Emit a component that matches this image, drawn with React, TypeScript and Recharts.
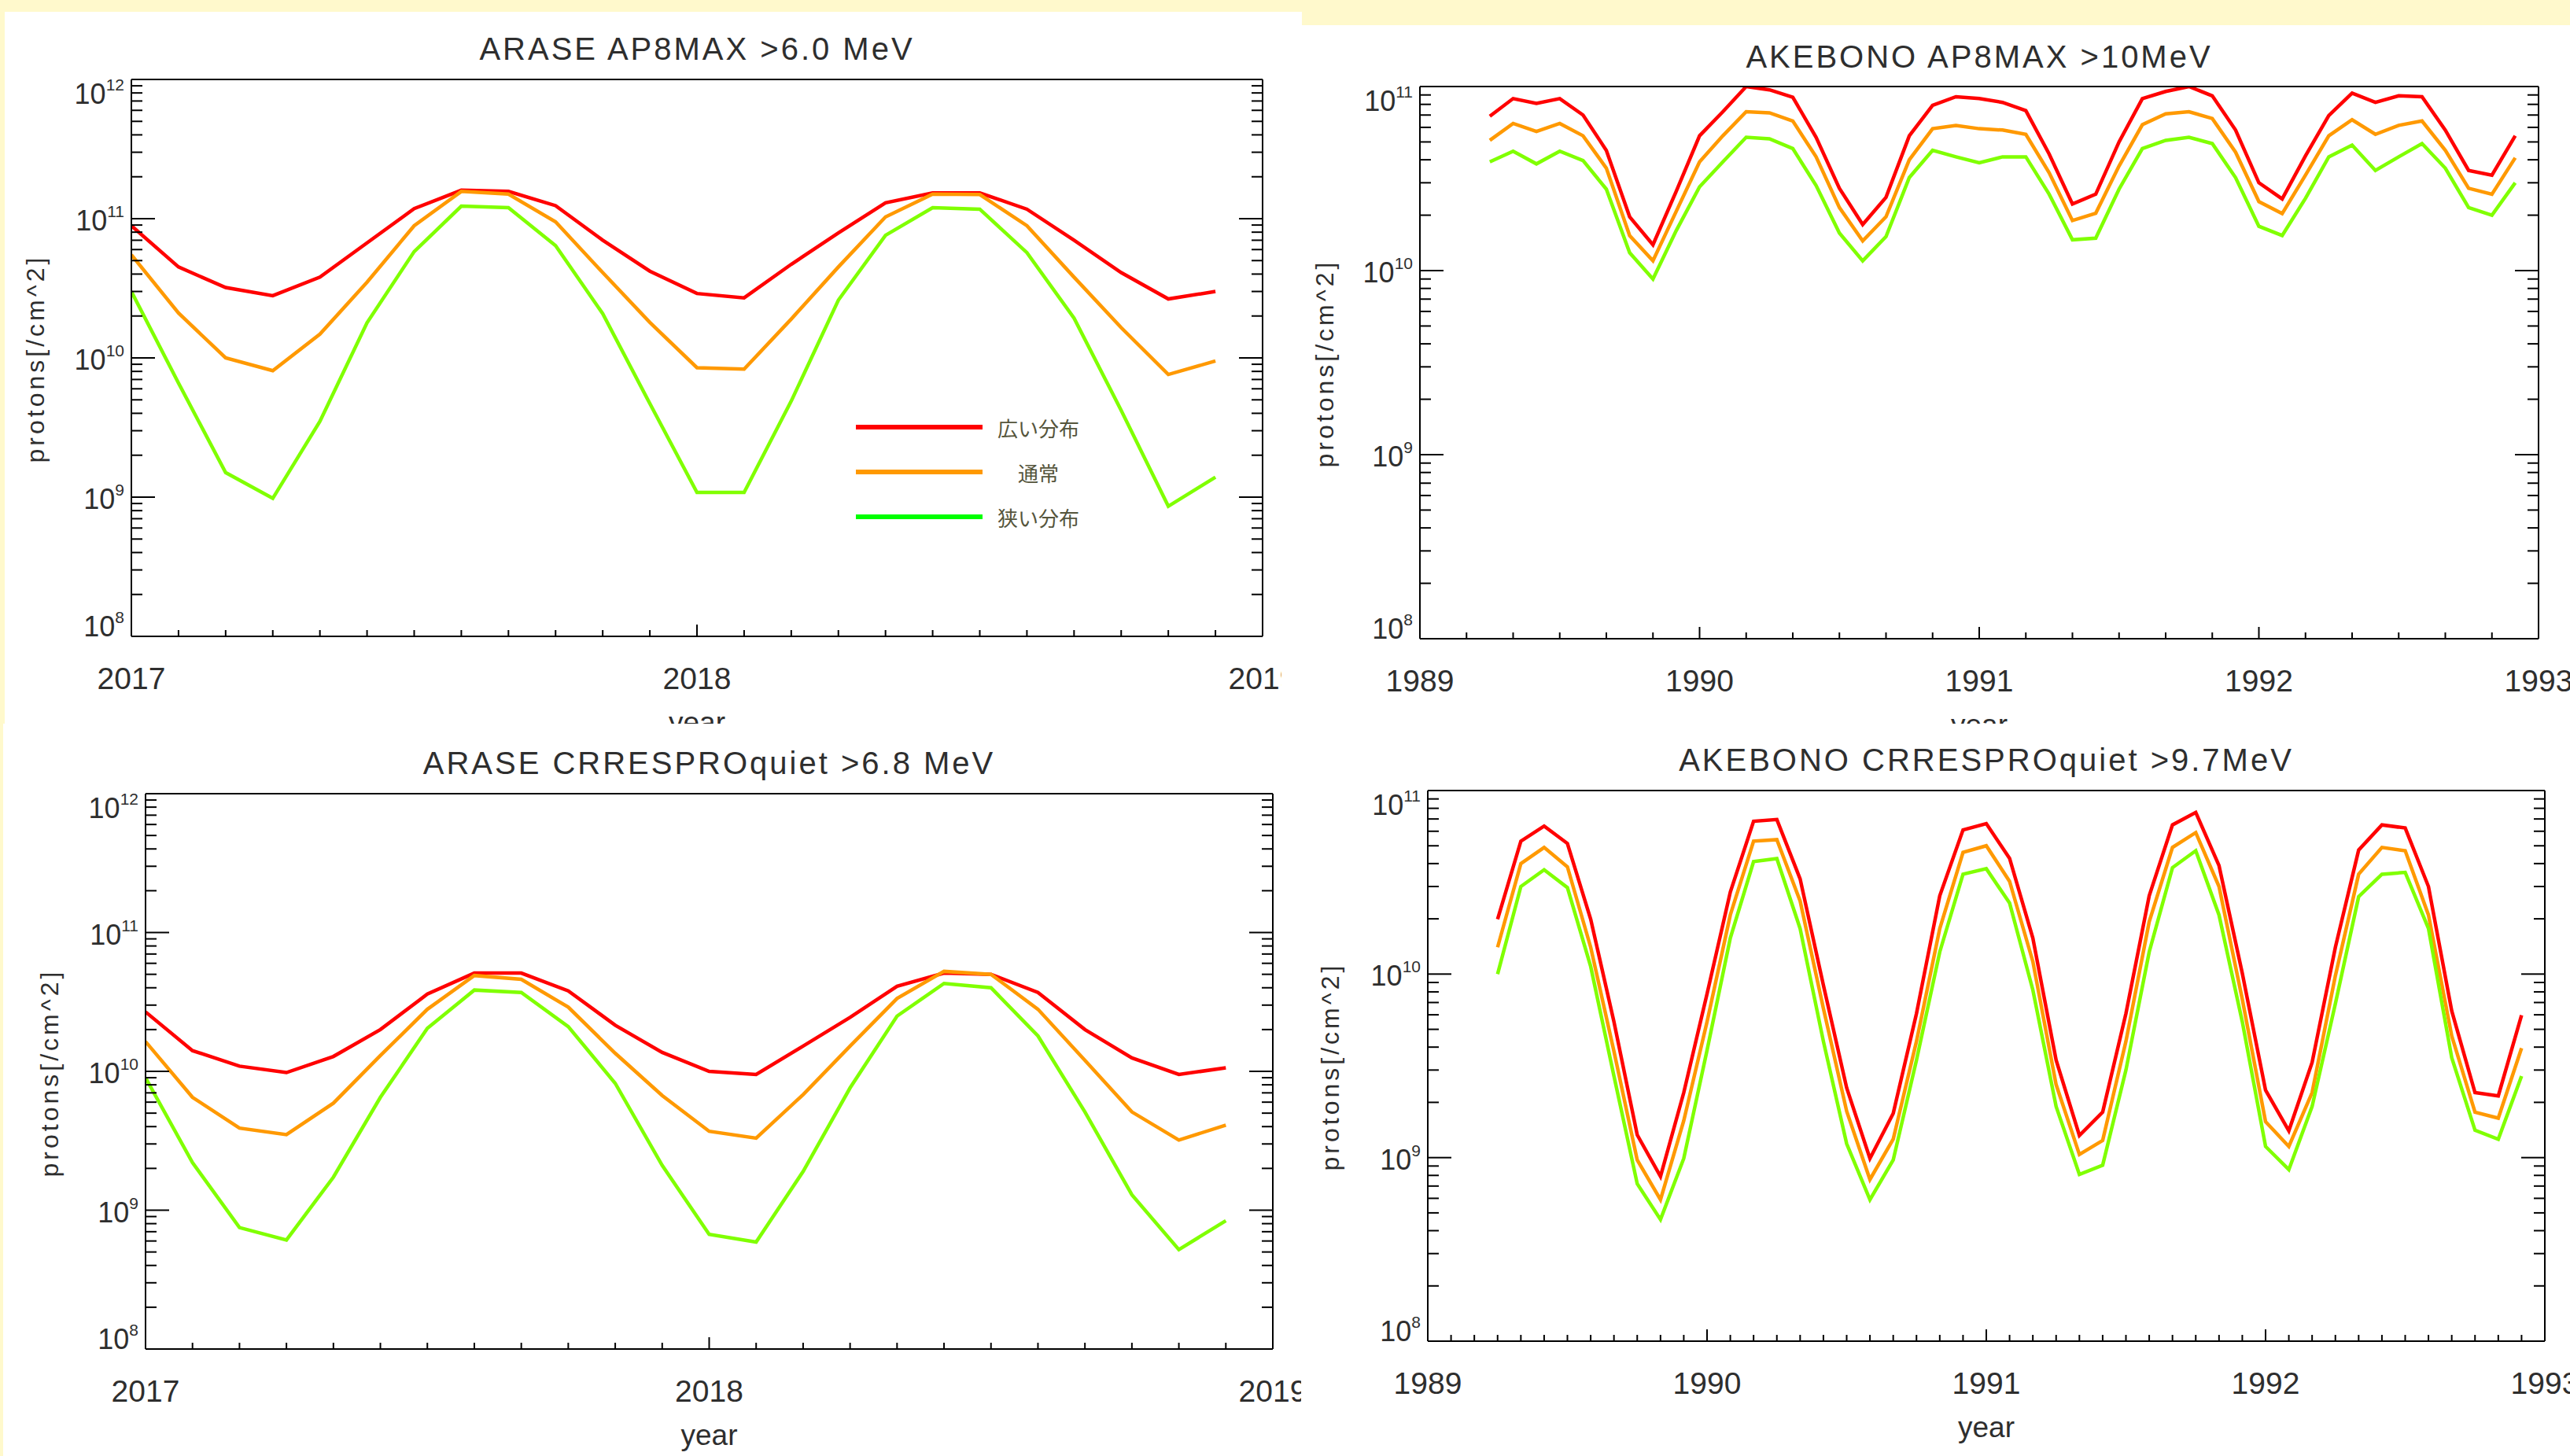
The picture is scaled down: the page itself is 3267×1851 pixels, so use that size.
import { LineChart, Line, XAxis, YAxis, Legend } from 'recharts'

const BG = '#fff9cc'
const INK = '#2e2e2e'
const FONT = '"Liberation Sans", "DejaVu Sans", sans-serif'
const JP_FONT = '"Noto Sans CJK JP", sans-serif'

// series
const seriesKeys = ['wide', 'normal', 'narrow']
const seriesNames = ['広い分布', '通常', '狭い分布']
const lineColors = ['#ff0000', '#ff9900', '#80ff00']
const legendColors = ['#ff0000', '#ff9900', '#00ff00']

// months (categories)
const araseMonths = [
  '2017-01', '2017-02', '2017-03', '2017-04', '2017-05', '2017-06',
  '2017-07', '2017-08', '2017-09', '2017-10', '2017-11', '2017-12',
  '2018-01', '2018-02', '2018-03', '2018-04', '2018-05', '2018-06',
  '2018-07', '2018-08', '2018-09', '2018-10', '2018-11', '2018-12',
]
const akebonoMonths = [
  '1989-04', '1989-05', '1989-06', '1989-07', '1989-08', '1989-09',
  '1989-10', '1989-11', '1989-12',
  '1990-01', '1990-02', '1990-03', '1990-04', '1990-05', '1990-06',
  '1990-07', '1990-08', '1990-09', '1990-10', '1990-11', '1990-12',
  '1991-01', '1991-02', '1991-03', '1991-04', '1991-05', '1991-06',
  '1991-07', '1991-08', '1991-09', '1991-10', '1991-11', '1991-12',
  '1992-01', '1992-02', '1992-03', '1992-04', '1992-05', '1992-06',
  '1992-07', '1992-08', '1992-09', '1992-10', '1992-11', '1992-12',
]

// tick labels
const araseYears = [2017, 2018, 2019]
const akebonoYears = [1989, 1990, 1991, 1992, 1993]
const araseDecades = [8, 9, 10, 11, 12]
const akebonoDecades = [8, 9, 10, 11]

// ARASE AP8MAX >6.0 MeV
const araseAp8Wide = [8.9e10, 4.5e10, 3.2e10, 2.8e10, 3.8e10, 6.7e10, 1.18e11, 1.6e11, 1.57e11, 1.24e11, 7.0e10, 4.2e10, 2.9e10, 2.7e10, 4.7e10, 7.9e10, 1.3e11, 1.53e11, 1.53e11, 1.17e11, 7.0e10, 4.1e10, 2.65e10, 3.0e10]
const araseAp8Normal = [5.5e10, 2.1e10, 1.0e10, 8.1e9, 1.48e10, 3.5e10, 8.9e10, 1.57e11, 1.5e11, 9.5e10, 4.1e10, 1.8e10, 8.5e9, 8.3e9, 1.9e10, 4.5e10, 1.03e11, 1.5e11, 1.49e11, 8.9e10, 3.8e10, 1.65e10, 7.6e9, 9.5e9]
const araseAp8Narrow = [3.0e10, 6.6e9, 1.5e9, 9.8e8, 3.5e9, 1.79e10, 5.8e10, 1.23e11, 1.2e11, 6.4e10, 2.08e10, 4.7e9, 1.08e9, 1.08e9, 4.9e9, 2.6e10, 7.6e10, 1.2e11, 1.17e11, 5.7e10, 1.93e10, 4.2e9, 8.6e8, 1.39e9]

// ARASE CRRESPROquiet >6.8 MeV
const araseCrresWide = [2.68e10, 1.41e10, 1.09e10, 9.8e9, 1.28e10, 2.0e10, 3.6e10, 5.1e10, 5.1e10, 3.8e10, 2.15e10, 1.37e10, 1.0e10, 9.5e9, 1.52e10, 2.45e10, 4.1e10, 5.1e10, 5.0e10, 3.7e10, 2.0e10, 1.25e10, 9.5e9, 1.06e10]
const araseCrresNormal = [1.64e10, 6.5e9, 3.9e9, 3.5e9, 5.9e9, 1.3e10, 2.8e10, 4.9e10, 4.6e10, 2.9e10, 1.35e10, 6.7e9, 3.7e9, 3.3e9, 6.8e9, 1.52e10, 3.35e10, 5.25e10, 5.0e10, 2.8e10, 1.2e10, 5.1e9, 3.2e9, 4.1e9]
const araseCrresNarrow = [9.0e9, 2.2e9, 7.5e8, 6.1e8, 1.73e9, 6.5e9, 2.04e10, 3.85e10, 3.7e10, 2.1e10, 8.2e9, 2.1e9, 6.7e8, 5.9e8, 1.9e9, 7.6e9, 2.5e10, 4.3e10, 4.0e10, 1.8e10, 5.1e9, 1.29e9, 5.2e8, 8.4e8]

// AKEBONO AP8MAX >10MeV
const akebonoAp8Wide = [6.9e10, 8.6e10, 8.1e10, 8.6e10, 7.0e10, 4.5e10, 1.96e10, 1.38e10, 2.7e10, 5.4e10, 7.3e10, 1.0e11, 9.6e10, 8.75e10, 5.3e10, 2.8e10, 1.78e10, 2.5e10, 5.4e10, 7.9e10, 8.8e10, 8.6e10, 8.2e10, 7.4e10, 4.3e10, 2.3e10, 2.6e10, 5.0e10, 8.6e10, 9.4e10, 1.0e11, 8.9e10, 5.8e10, 3.0e10, 2.45e10, 4.2e10, 6.95e10, 9.2e10, 8.2e10, 8.9e10, 8.8e10, 5.8e10, 3.5e10, 3.3e10, 5.4e10]
const akebonoAp8Normal = [5.1e10, 6.3e10, 5.7e10, 6.3e10, 5.4e10, 3.6e10, 1.55e10, 1.13e10, 2.1e10, 3.9e10, 5.4e10, 7.3e10, 7.2e10, 6.5e10, 4.15e10, 2.2e10, 1.45e10, 1.96e10, 4.0e10, 5.9e10, 6.15e10, 5.9e10, 5.8e10, 5.5e10, 3.4e10, 1.87e10, 2.05e10, 3.7e10, 6.2e10, 7.1e10, 7.3e10, 6.7e10, 4.4e10, 2.37e10, 2.04e10, 3.3e10, 5.4e10, 6.6e10, 5.5e10, 6.15e10, 6.5e10, 4.5e10, 2.8e10, 2.6e10, 4.1e10]
const akebonoAp8Narrow = [3.9e10, 4.45e10, 3.8e10, 4.45e10, 3.96e10, 2.77e10, 1.25e10, 9.0e9, 1.65e10, 2.85e10, 3.9e10, 5.3e10, 5.2e10, 4.6e10, 2.9e10, 1.6e10, 1.13e10, 1.53e10, 3.2e10, 4.5e10, 4.15e10, 3.85e10, 4.15e10, 4.15e10, 2.6e10, 1.47e10, 1.5e10, 2.77e10, 4.6e10, 5.1e10, 5.3e10, 4.9e10, 3.2e10, 1.74e10, 1.55e10, 2.47e10, 4.15e10, 4.8e10, 3.5e10, 4.15e10, 4.9e10, 3.6e10, 2.2e10, 2.0e10, 3.0e10]

// AKEBONO CRRESPROquiet >9.7MeV
const akebonoCrresWide = [1.99e10, 5.3e10, 6.4e10, 5.15e10, 1.99e10, 5.5e9, 1.33e9, 7.9e8, 2.26e9, 7.8e9, 2.8e10, 6.8e10, 6.95e10, 3.3e10, 8.7e9, 2.4e9, 9.9e8, 1.74e9, 6.1e9, 2.67e10, 6.1e10, 6.6e10, 4.27e10, 1.57e10, 3.4e9, 1.32e9, 1.77e9, 6.1e9, 2.67e10, 6.5e10, 7.6e10, 3.9e10, 1.01e10, 2.33e9, 1.4e9, 3.3e9, 1.4e10, 4.74e10, 6.5e10, 6.25e10, 3.0e10, 6.3e9, 2.26e9, 2.17e9, 5.97e9]
const akebonoCrresNormal = [1.4e10, 4.0e10, 4.9e10, 3.84e10, 1.4e10, 3.8e9, 9.7e8, 5.9e8, 1.59e9, 5.5e9, 2.1e10, 5.3e10, 5.4e10, 2.5e10, 6.5e9, 1.79e9, 7.6e8, 1.26e9, 4.3e9, 1.77e10, 4.6e10, 5.0e10, 3.2e10, 1.17e10, 2.5e9, 1.04e9, 1.24e9, 4.3e9, 1.93e10, 4.9e10, 5.9e10, 3.0e10, 7.3e9, 1.57e9, 1.15e9, 2.26e9, 9.8e9, 3.5e10, 4.9e10, 4.7e10, 2.1e10, 4.6e9, 1.77e9, 1.64e9, 3.95e9]
const akebonoCrresNarrow = [1.0e10, 3.0e10, 3.7e10, 2.96e10, 1.1e10, 2.78e9, 7.2e8, 4.6e8, 9.9e8, 3.84e9, 1.57e10, 4.1e10, 4.26e10, 1.77e10, 4.3e9, 1.19e9, 5.9e8, 9.7e8, 3.4e9, 1.32e10, 3.5e10, 3.75e10, 2.44e10, 8.2e9, 1.9e9, 8.1e8, 9.1e8, 3.0e9, 1.32e10, 3.8e10, 4.7e10, 2.1e10, 5.5e9, 1.15e9, 8.6e8, 1.9e9, 6.9e9, 2.64e10, 3.5e10, 3.58e10, 1.77e10, 3.5e9, 1.41e9, 1.26e9, 2.78e9]

const toYear = (m: string) => Number(m.slice(0, 4)) + (Number(m.slice(5, 7)) - 1) / 12

function buildRows(months: string[], cols: number[][]) {
  return months.map((m, i) => {
    const row: Record<string, number> = { t: toYear(m) }
    seriesKeys.forEach((k, j) => (row[k] = cols[j][i]))
    return row
  })
}

function monthTicks(years: number[], step: number) {
  const out: number[] = []
  for (let y = years[0]; y < years[years.length - 1]; y++) {
    for (let m = 0; m < 12; m += step) out.push(y + m / 12)
  }
  out.push(years[years.length - 1])
  return out
}

function logTicks(decades: number[]) {
  const out: number[] = []
  for (let i = 0; i < decades.length - 1; i++) {
    for (let m = 1; m <= 9; m++) out.push(m * Math.pow(10, decades[i]))
  }
  out.push(Math.pow(10, decades[decades.length - 1]))
  return out
}

function XTick(props: any) {
  const { x, y, payload, side } = props
  const v = payload.value
  const major = Math.abs(v - Math.round(v)) < 1e-6
  const len = major ? 15 : 8
  const dir = side === 'bottom' ? -1 : 1
  return (
    <g>
      <line x1={x} y1={y} x2={x} y2={y + dir * len} stroke="#000" strokeWidth={2} />
      {major && side === 'bottom' && (
        <text x={x} y={y + 67} textAnchor="middle" fontSize={39} fill={INK} fontFamily={FONT}>
          {Math.round(v)}
        </text>
      )}
    </g>
  )
}

function YTick(props: any) {
  const { x, y, payload, side, lo, hi } = props
  const v = payload.value
  const e = Math.round(Math.log10(v))
  const major = Math.abs(v / Math.pow(10, e) - 1) < 1e-6
  const len = major ? 30 : 14
  const dir = side === 'left' ? 1 : -1
  let base = y + 15
  if (e === hi) base = y + 31
  if (e === lo) base = y
  return (
    <g>
      <line x1={x} y1={y} x2={x + dir * len} y2={y} stroke="#000" strokeWidth={2} />
      {major && side === 'left' && (
        <text x={x - 9} y={base} textAnchor="end" fontSize={36} fill={INK} fontFamily={FONT}>
          10
          <tspan dy={-17} fontSize={21}>{e}</tspan>
        </text>
      )}
    </g>
  )
}

function LegendBox() {
  return (
    <div>
      {seriesNames.map((name, i) => (
        <div key={name} style={{ position: 'relative', height: 57 }}>
          <div style={{ position: 'absolute', left: 0, top: 25, width: 161, height: 6, background: legendColors[i] }} />
          <div
            style={{
              position: 'absolute', left: 172, top: 0, width: 120, height: 57, lineHeight: '57px',
              textAlign: 'center', fontFamily: JP_FONT, fontSize: 26, color: '#55553c',
            }}
          >
            {name}
          </div>
        </div>
      ))}
    </div>
  )
}

const axisLine = { stroke: '#000', strokeWidth: 2 }

// margins already leave 1px for each axis band
const panels = [
  {
    id: 'p1', left: 6, top: 15, width: 1649, height: 905, chartHeight: 960,
    margin: { top: 85, right: 49, bottom: 165, left: 160 },
    title: 'ARASE AP8MAX >6.0 MeV', titleY: 47, ylabel: [39, 441],
    years: araseYears, step: 1, decades: araseDecades,
    rows: buildRows(araseMonths, [araseAp8Wide, araseAp8Normal, araseAp8Narrow]),
    legend: { left: 1082, top: 500 },
  },
  {
    id: 'p2', left: 1629, top: 32, width: 1638, height: 888, chartHeight: 960,
    margin: { top: 77, right: 39, bottom: 179, left: 175 },
    title: 'AKEBONO AP8MAX >10MeV', titleY: 40, ylabel: [55, 430],
    years: akebonoYears, step: 2, decades: akebonoDecades,
    rows: buildRows(akebonoMonths, [akebonoAp8Wide, akebonoAp8Normal, akebonoAp8Narrow]),
  },
  {
    id: 'p3', left: 4, top: 920, width: 1650, height: 931, chartHeight: 931,
    margin: { top: 88, right: 35, bottom: 135, left: 180 },
    title: 'ARASE CRRESPROquiet >6.8 MeV', titleY: 50, ylabel: [59, 444],
    years: araseYears, step: 1, decades: araseDecades,
    rows: buildRows(araseMonths, [araseCrresWide, araseCrresNormal, araseCrresNarrow]),
  },
  {
    id: 'p4', left: 1654, top: 920, width: 1613, height: 931, chartHeight: 931,
    margin: { top: 84, right: 31, bottom: 145, left: 160 },
    title: 'AKEBONO CRRESPROquiet >9.7MeV', titleY: 46, ylabel: [37, 436],
    years: akebonoYears, step: 1, decades: akebonoDecades,
    rows: buildRows(akebonoMonths, [akebonoCrresWide, akebonoCrresNormal, akebonoCrresNarrow]),
  },
]

function Panel({ p }: { p: (typeof panels)[number] }) {
  const { margin } = p
  const plotW = p.width - margin.left - margin.right - 2
  const plotCx = margin.left + 1 + plotW / 2
  const plotBottom = p.chartHeight - margin.bottom - 1
  const xDomain = [p.years[0], p.years[p.years.length - 1]]
  const xTicks = monthTicks(p.years, p.step)
  const lo = p.decades[0]
  const hi = p.decades[p.decades.length - 1]
  const yDomain = [Math.pow(10, lo), Math.pow(10, hi)]
  const yTicks = logTicks(p.decades)

  return (
    <div
      style={{
        position: 'absolute', left: p.left, top: p.top, width: p.width, height: p.height,
        background: '#fff', overflow: 'hidden',
      }}
    >
      <div
        style={{
          position: 'absolute', left: plotCx, top: p.titleY, transform: 'translate(-50%, -50%)',
          whiteSpace: 'nowrap', fontFamily: FONT, fontSize: 40, letterSpacing: 3, color: INK,
        }}
      >
        {p.title}
      </div>
      <div
        style={{
          position: 'absolute', left: p.ylabel[0], top: p.ylabel[1],
          transform: 'translate(-50%, -50%) rotate(-90deg)',
          whiteSpace: 'nowrap', fontFamily: FONT, fontSize: 32, letterSpacing: 4, color: INK,
        }}
      >
        protons[/cm^2]
      </div>
      <div
        style={{
          position: 'absolute', left: plotCx, top: plotBottom + 110, transform: 'translate(-50%, -50%)',
          whiteSpace: 'nowrap', fontFamily: FONT, fontSize: 37, color: INK,
        }}
      >
        year
      </div>
      <LineChart width={p.width} height={p.chartHeight} data={p.rows} margin={margin}>
        <XAxis
          xAxisId="b" dataKey="t" type="number" domain={xDomain} ticks={xTicks} interval={0}
          allowDataOverflow height={1} tickSize={0} tickMargin={0} tickLine={false} axisLine={axisLine}
          tick={(tp: any) => <XTick {...tp} side="bottom" />}
        />
        <XAxis
          xAxisId="t" orientation="top" type="number" domain={xDomain} ticks={xTicks} interval={0}
          allowDataOverflow height={1} tickSize={0} tickMargin={0} tickLine={false} axisLine={axisLine}
          tick={(tp: any) => <XTick {...tp} side="top" />}
        />
        <YAxis
          yAxisId="l" type="number" scale="log" domain={yDomain} ticks={yTicks} interval={0}
          allowDataOverflow width={1} tickSize={0} tickMargin={0} tickLine={false} axisLine={axisLine}
          tick={(tp: any) => <YTick {...tp} side="left" lo={lo} hi={hi} />}
        />
        <YAxis
          yAxisId="r" orientation="right" type="number" scale="log" domain={yDomain} ticks={yTicks}
          interval={0} allowDataOverflow width={1} tickSize={0} tickMargin={0} tickLine={false}
          axisLine={axisLine}
          tick={(tp: any) => <YTick {...tp} side="right" lo={lo} hi={hi} />}
        />
        {seriesKeys.map((k, i) => (
          <Line
            key={k} xAxisId="b" yAxisId="l" type="linear" dataKey={k} name={seriesNames[i]}
            stroke={lineColors[i]} strokeWidth={4.5} dot={false} activeDot={false}
            isAnimationActive={false}
          />
        ))}
        {p.legend && (
          <Legend
            layout="vertical" align="center" verticalAlign="middle"
            wrapperStyle={{ position: 'absolute', left: p.legend.left, top: p.legend.top, width: 320, height: 171 }}
            content={() => <LegendBox />}
          />
        )}
      </LineChart>
    </div>
  )
}

export default function App() {
  return (
    <div
      style={{
        position: 'absolute', left: 0, top: 0, width: 3267, height: 1851,
        background: BG, overflow: 'hidden',
      }}
    >
      {panels.map((p) => (
        <Panel key={p.id} p={p} />
      ))}
    </div>
  )
}
